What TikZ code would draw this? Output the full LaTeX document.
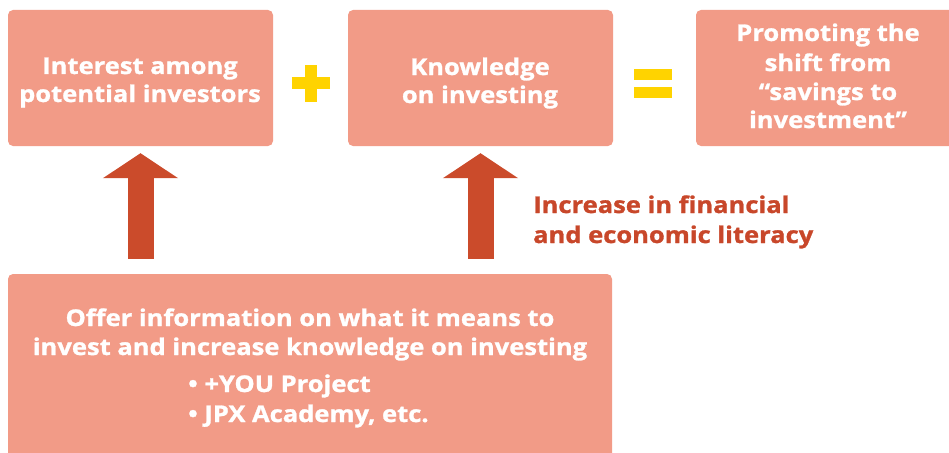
\documentclass[tikz,border=0pt]{standalone}
\usepackage{fontspec}
\setmainfont{Open Sans}[BoldFeatures={FakeStretch=1.11, FakeBold=1.2}]
\usetikzlibrary{arrows.meta}
\definecolor{boxfill}{HTML}{F29B87}
\definecolor{arrowred}{HTML}{CB4B2B}
\definecolor{textred}{HTML}{C8472A}
\definecolor{symyellow}{HTML}{FFD300}
\begin{document}
\begin{tikzpicture}[x=1pt,y=-1pt,
  box/.style={fill=boxfill, rounded corners=5pt, inner sep=0pt},
  txt/.style={text=white, inner sep=0pt, font=\bfseries\fontsize{23}{28}\selectfont},
  redtxt/.style={text=textred, inner sep=0pt, anchor=base west, font=\bfseries\fontsize{23}{28}\selectfont},
  bigarrow/.style={draw=arrowred, line width=26pt, -{Triangle[width=74pt,length=25pt]}},
  sym/.style={fill=symyellow}]
\useasboundingbox (0,0) rectangle (949,452);
% boxes
\node[box, minimum width=265pt, minimum height=136pt] (b1) at (140.5,78) {};
\node[box, minimum width=265pt, minimum height=136pt] (b2) at (480.5,78) {};
\node[box, minimum width=265pt, minimum height=136pt] (b3) at (828.5,78) {};
\node[box, minimum width=604pt, minimum height=192pt] (bot) at (310,370) {};
% box texts
\node[txt, anchor=base] (t1a) at (140,74) {Interest among};
\node[txt, anchor=base] (t1b) at (140,102) {potential investors};
\node[txt, anchor=base] (t2a) at (480,75) {Knowledge};
\node[txt, anchor=base] (t2b) at (480,103) {on investing};
\node[txt, anchor=base] (t3a) at (828,41) {Promoting the};
\node[txt, anchor=base] (t3b) at (828,71) {shift from};
\node[txt, anchor=base] (t3c) at (828,100) {“savings to};
\node[txt, anchor=base] (t3d) at (828,128) {investment”};
\node[txt, anchor=base] (h1) at (310,326) {Offer information on what it means to};
\node[txt, anchor=base] (h2) at (310,355) {invest and increase knowledge on investing};
\node[txt, anchor=base west] (l1) at (188,392) {• +YOU Project};
\node[txt, anchor=base west] (l2) at (188,422) {• JPX Academy, etc.};
% red label
\node[redtxt] (r1) at (533,213) {Increase in financial};
\node[redtxt] (r2) at (533,243) {and economic literacy};
% plus and equals
\fill[sym] (292,77) rectangle (330,89);
\fill[sym] (305,64.5) rectangle (317,101.5);
\fill[sym] (634,69) rectangle (672,80);
\fill[sym] (634,87) rectangle (672,98);
% arrows
\draw[bigarrow, shorten <=15pt, shorten >=7pt] (b1.south |- bot.north) -- (b1.south);
\draw[bigarrow, shorten <=15pt, shorten >=7pt] (b2.south |- bot.north) -- (b2.south);
\end{tikzpicture}
\end{document}
